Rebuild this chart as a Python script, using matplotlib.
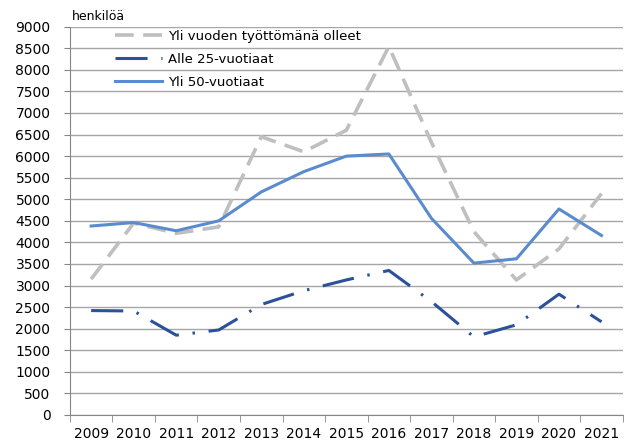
import matplotlib
matplotlib.use('Agg')
from matplotlib import pyplot as plt

years = ['2009', '2010', '2011', '2012', '2013', '2014', '2015',
         '2016', '2017', '2018', '2019', '2020', '2021']
yli_vuoden = [3150, 4450, 4210, 4360, 6450, 6100, 6600, 8540, 6320, 4250, 3130, 3850, 5130]
alle_25 = [2420, 2410, 1850, 1970, 2560, 2880, 3130, 3350, 2630, 1810, 2090, 2800, 2160]
yli_50 = [4380, 4460, 4270, 4500, 5170, 5640, 6000, 6050, 4560, 3520, 3620, 4775, 4160]

plt.rcParams['font.family'] = ['DejaVu Sans']

fig = plt.figure(figsize=(6.24, 4.41), dpi=100)
ax = fig.add_axes([0.112, 0.059, 0.886, 0.8805])

x = range(len(years))
ax.plot(x, yli_vuoden, color='#bfbfbf', lw=2.6, dashes=(5.2, 2.6),
        label='Yli vuoden työttömänä olleet')
ax.plot(x, alle_25, color='#2a5199', lw=2.2, dashes=(10.5, 4.5, 0.8, 4.5),
        label='Alle 25-vuotiaat')
ax.plot(x, yli_50, color='#5b8bcf', lw=2.2, label='Yli 50-vuotiaat')

ax.set_xlim(-0.5, len(years) - 0.5)
ax.set_ylim(0, 9000)
ax.set_yticks(range(0, 9001, 500))
ax.tick_params(axis='y', length=4, color='#868686', labelsize=10, pad=10)
ax.yaxis.grid(True, color='#a6a6a6', lw=1)
ax.set_axisbelow(True)

# labels at the category centres, tick marks at the boundaries
ax.set_xticks(list(x))
ax.set_xticklabels(years)
ax.set_xticks([i - 0.5 for i in range(len(years) + 1)], minor=True)
ax.tick_params(axis='x', which='major', length=0, labelsize=10, pad=9)
ax.tick_params(axis='x', which='minor', length=5, color='#868686')

for s in ['top', 'right']:
    ax.spines[s].set_visible(False)
for s in ['left', 'bottom']:
    ax.spines[s].set_color('#868686')

ax.text(0.004, 1.01, 'henkilöä', transform=ax.transAxes, fontsize=9,
        va='bottom', ha='left')

ax.legend(loc='upper left', bbox_to_anchor=(0.072, 1.005), frameon=False,
          fontsize=9.5, handlelength=3.6, handletextpad=0.4,
          labelspacing=0.75, borderaxespad=0)

fig.savefig('out.png', dpi=100, facecolor='white')
